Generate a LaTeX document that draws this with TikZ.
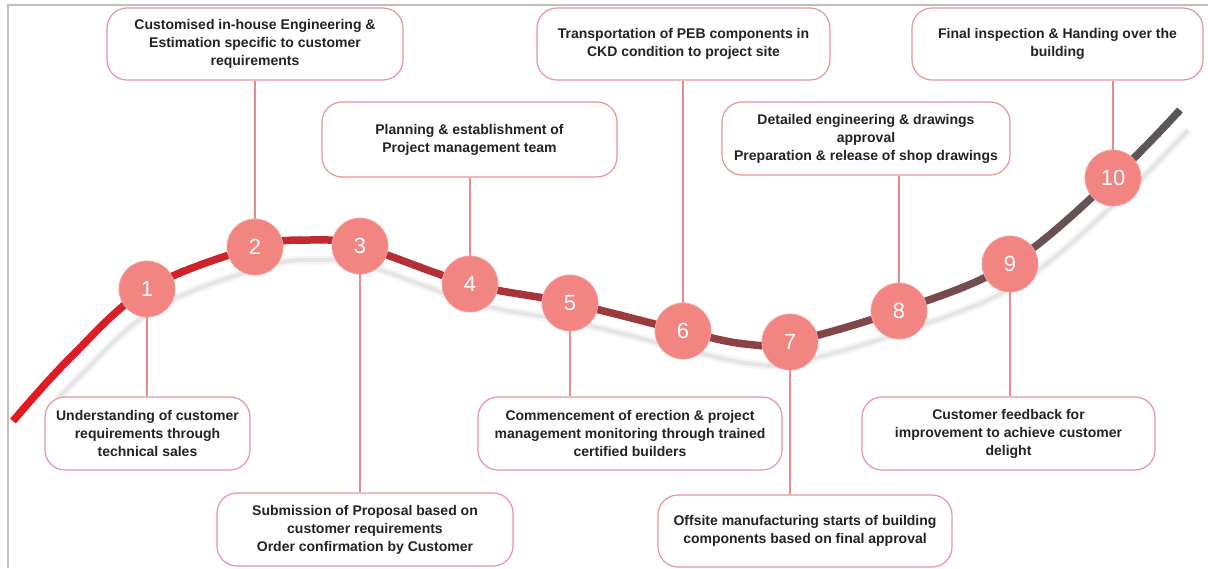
\documentclass[tikz,border=0pt]{standalone}
\usepackage{fontspec}
\setmainfont{Liberation Sans}
\usetikzlibrary{calc}
\pgfdeclarelayer{bg}
\pgfsetlayers{bg,main}
\definecolor{boxpink}{RGB}{228,150,155}
\definecolor{circfill}{RGB}{242,132,130}
\definecolor{circedge}{RGB}{246,160,158}
\definecolor{linkpink}{RGB}{230,140,145}
\definecolor{framegray}{RGB}{190,190,190}
\definecolor{txt}{RGB}{35,35,35}
\definecolor{curvered}{RGB}{228,26,34}
\definecolor{curvegray}{RGB}{88,88,88}
\definecolor{shadowgray}{RGB}{205,205,205}
\def\curvepath{plot[smooth, tension=0.6] coordinates {(13,421) (70,358) (147,289) (255,247) (310,240) (360,246) (470,284) (570,303) (683,331) (745,344) (790,342) (897,311) (1010,264) (1113,178) (1180,110)}}
\begin{document}
\begin{tikzpicture}[x=1pt,y=-1pt,
  stepbox/.style={draw=boxpink, line width=1.2pt, fill=white, rounded corners=20pt,
    align=center, font=\fontsize{14}{18}\selectfont\bfseries, text=txt, inner sep=0pt},
  num/.style={circle, fill=circfill, draw=circedge, line width=0.8pt, minimum size=56pt,
    inner sep=0pt, text=white, font=\fontsize{22}{22}\selectfont},
  link/.style={draw=linkpink, line width=1.3pt}]
\useasboundingbox (0,0) rectangle (1208,568);
% frame
\draw[framegray, line width=2pt] (1208,5) -- (8,5) -- (8,568);

% boxes
\node[stepbox, minimum width=205pt, minimum height=73pt] (b1) at (147.5,433.5)
  {Understanding of customer\\requirements through\\technical sales};
\node[stepbox, minimum width=296pt, minimum height=72pt] (b2) at (255,44)
  {Customised in-house Engineering \&\\Estimation specific to customer\\requirements};
\node[stepbox, minimum width=296pt, minimum height=73pt] (b3) at (365,529.5)
  {Submission of Proposal based on\\customer requirements\\Order confirmation by Customer};
\node[stepbox, minimum width=295pt, minimum height=75pt] (b4) at (469.5,139.5)
  {Planning \& establishment of\\Project management team};
\node[stepbox, minimum width=304pt, minimum height=73pt] (b5) at (630,433.5)
  {Commencement of erection \& project\\management monitoring through trained\\certified builders};
\node[stepbox, minimum width=293pt, minimum height=72pt] (b6) at (683.5,44)
  {Transportation of PEB components in\\CKD condition to project site};
\node[stepbox, minimum width=294pt, minimum height=72pt] (b7) at (805,531)
  {Offsite manufacturing starts of building\\components based on final approval};
\node[stepbox, minimum width=288pt, minimum height=73pt] (b8) at (866,138.5)
  {Detailed engineering \& drawings\\approval\\Preparation \& release of shop drawings};
\node[stepbox, minimum width=293pt, minimum height=73pt] (b9) at (1008.5,433.5)
  {Customer feedback for\\improvement to achieve customer\\delight};
\node[stepbox, minimum width=291pt, minimum height=72pt] (b10) at (1057.5,44)
  {Final inspection \& Handing over the\\building};

% circles
\node[num] (c1) at (147,289) {1};
\node[num] (c2) at (255,247) {2};
\node[num] (c3) at (360,246) {3};
\node[num] (c4) at (470,284) {4};
\node[num] (c5) at (570,303) {5};
\node[num] (c6) at (683,331) {6};
\node[num] (c7) at (790,342) {7};
\node[num] (c8) at (899,311) {8};
\node[num] (c9) at (1010,264) {9};
\node[num] (c10) at (1113,178) {10};

\begin{pgfonlayer}{bg}
  % shadow of the curve
  \begin{scope}
    \clip (55,0) rectangle (1208,568);
    \draw[shadowgray, line width=9pt, opacity=0.2, shift={(8,20)}] \curvepath;
    \draw[shadowgray, line width=4pt, opacity=0.4, shift={(8,20)}] \curvepath;
  \end{scope}
  % gradient curve
  \foreach \i in {0,...,59}{
    \pgfmathsetmacro{\p}{100*\i/59}
    \pgfmathsetmacro{\xa}{\i*20}
    \pgfmathsetmacro{\xb}{\i*20+21}
    \begin{scope}
      \clip (\xa,0) rectangle (\xb,568);
      \draw[curvegray!\p!curvered, line width=7.5pt] \curvepath;
    \end{scope}
  }
  % connectors
  \draw[link] (c1.center) -- (c1 |- b1.north);
  \draw[link] (c2.center) -- (c2 |- b2.south);
  \draw[link] (c3.center) -- (c3 |- b3.north);
  \draw[link] (c4.center) -- (c4 |- b4.south);
  \draw[link] (c5.center) -- (c5 |- b5.north);
  \draw[link] (c6.center) -- (c6 |- b6.south);
  \draw[link] (c7.center) -- (c7 |- b7.north);
  \draw[link] (c8.center) -- (c8 |- b8.south);
  \draw[link] (c9.center) -- (c9 |- b9.north);
  \draw[link] (c10.center) -- (c10 |- b10.south);
\end{pgfonlayer}
\end{tikzpicture}
\end{document}
